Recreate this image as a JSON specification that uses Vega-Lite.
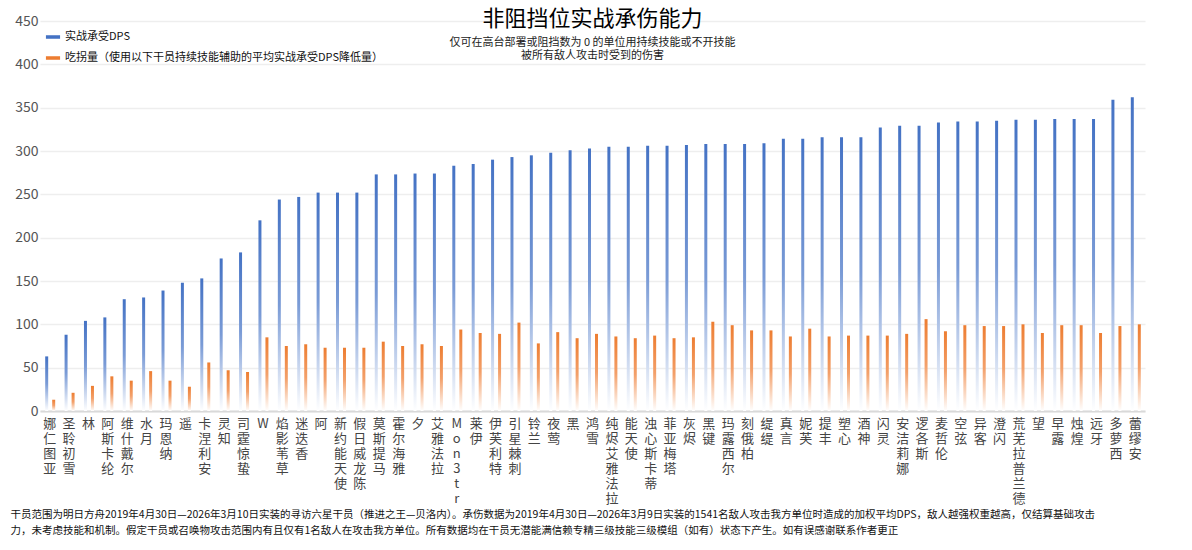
{
  "$schema": "https://vega.github.io/schema/vega-lite/v6.json",
  "width": 1105,
  "height": 390,
  "padding": {"left": 10, "top": 8, "right": 30, "bottom": 2},
  "background": "white",
  "config": {
    "font": "Noto Sans CJK SC",
    "view": {"stroke": null}
  },
  "title": {
    "text": "非阻挡位实战承伤能力",
    "subtitle": ["仅可在高台部署或阻挡数为 0 的单位用持续技能或不开技能", "被所有敌人攻击时受到的伤害"],
    "fontSize": 22,
    "fontWeight": "normal",
    "subtitleFontSize": 11,
    "subtitleColor": "#222",
    "subtitlePadding": 6,
    "offset": -48,
    "anchor": "middle"
  },
  "data": {
    "values": [
      {"name": "娜仁图亚", "dps": 63, "drop": 13},
      {"name": "圣聆初雪", "dps": 88, "drop": 21},
      {"name": "林", "dps": 104, "drop": 29},
      {"name": "阿斯卡纶", "dps": 108, "drop": 40},
      {"name": "维什戴尔", "dps": 129, "drop": 35},
      {"name": "水月", "dps": 131, "drop": 46},
      {"name": "玛恩纳", "dps": 139, "drop": 35},
      {"name": "遥", "dps": 148, "drop": 28},
      {"name": "卡涅利安", "dps": 153, "drop": 56},
      {"name": "灵知", "dps": 176, "drop": 47},
      {"name": "司霆惊蛰", "dps": 183, "drop": 45},
      {"name": "W", "dps": 220, "drop": 85},
      {"name": "焰影苇草", "dps": 244, "drop": 75},
      {"name": "迷迭香", "dps": 247, "drop": 77},
      {"name": "阿", "dps": 252, "drop": 73},
      {"name": "新约能天使", "dps": 252, "drop": 73},
      {"name": "假日威龙陈", "dps": 252, "drop": 73},
      {"name": "莫斯提马", "dps": 273, "drop": 80},
      {"name": "霍尔海雅", "dps": 273, "drop": 75},
      {"name": "夕", "dps": 274, "drop": 77},
      {"name": "艾雅法拉", "dps": 274, "drop": 75},
      {"name": "Mon3tr", "dps": 283, "drop": 94},
      {"name": "莱伊", "dps": 285, "drop": 90},
      {"name": "伊芙利特", "dps": 290, "drop": 89},
      {"name": "引星棘刺", "dps": 293, "drop": 102},
      {"name": "铃兰", "dps": 295, "drop": 78},
      {"name": "夜莺", "dps": 298, "drop": 91},
      {"name": "黑", "dps": 301, "drop": 84},
      {"name": "鸿雪", "dps": 303, "drop": 89},
      {"name": "纯烬艾雅法拉", "dps": 305, "drop": 86},
      {"name": "能天使", "dps": 305, "drop": 84},
      {"name": "浊心斯卡蒂", "dps": 306, "drop": 87},
      {"name": "菲亚梅塔", "dps": 306, "drop": 84},
      {"name": "灰烬", "dps": 307, "drop": 85},
      {"name": "黑键", "dps": 308, "drop": 103},
      {"name": "玛露西尔", "dps": 308, "drop": 99},
      {"name": "刻俄柏", "dps": 308, "drop": 93},
      {"name": "缇缇", "dps": 309, "drop": 93},
      {"name": "真言", "dps": 314, "drop": 86},
      {"name": "妮芙", "dps": 314, "drop": 95},
      {"name": "提丰", "dps": 316, "drop": 86},
      {"name": "塑心", "dps": 316, "drop": 87},
      {"name": "酒神", "dps": 316, "drop": 87},
      {"name": "闪灵", "dps": 327, "drop": 87},
      {"name": "安洁莉娜", "dps": 329, "drop": 89},
      {"name": "逻各斯", "dps": 329, "drop": 106},
      {"name": "麦哲伦", "dps": 333, "drop": 92},
      {"name": "空弦", "dps": 334, "drop": 99},
      {"name": "异客", "dps": 334, "drop": 98},
      {"name": "澄闪", "dps": 335, "drop": 98},
      {"name": "荒芜拉普兰德", "dps": 336, "drop": 100},
      {"name": "望", "dps": 336, "drop": 90},
      {"name": "早露", "dps": 337, "drop": 99},
      {"name": "烛煌", "dps": 337, "drop": 99},
      {"name": "远牙", "dps": 337, "drop": 90},
      {"name": "多萝西", "dps": 359, "drop": 98},
      {"name": "蕾缪安", "dps": 362, "drop": 100}
    ]
  },
  "encoding": {
    "x": {
      "field": "name",
      "type": "nominal",
      "sort": null,
      "axis": {
        "labelAngle": 0,
        "labelExpr": "split(datum.label, '')",
        "labelFontSize": 13,
        "labelColor": "#444",
        "labelLineHeight": 15,
        "labelBaseline": "top",
        "labelPadding": 6,
        "labelOverlap": false,
        "ticks": false,
        "domainColor": "#d9d9d9",
        "domainWidth": 2,
        "title": [
          "干员范围为明日方舟2019年4月30日—2026年3月10日实装的寻访六星干员（推进之王—贝洛内）。承伤数据为2019年4月30日—2026年3月9日实装的1541名敌人攻击我方单位时造成的加权平均DPS，敌人越强权重越高，仅结算基础攻击",
          "力，未考虑技能和机制。假定干员或召唤物攻击范围内有且仅有1名敌人在攻击我方单位。所有数据均在干员无潜能满信赖专精三级技能三级模组（如有）状态下产生。如有误感谢联系作者更正"
        ],
        "titleFontSize": 10.5,
        "titleFontWeight": "normal",
        "titleColor": "#111",
        "titleAnchor": "start",
        "titleAlign": "left",
        "titleX": -30,
        "titlePadding": 4,
        "titleLineHeight": 16
      }
    }
  },
  "layer": [
    {
      "mark": {
        "type": "bar",
        "width": 3,
        "xOffset": -3,
        "color": {
          "gradient": "linear", "x1": 0, "y1": 0, "x2": 0, "y2": 1,
          "stops": [
            {"offset": 0, "color": "#4472c4"},
            {"offset": 0.5, "color": "#7a9bd6"},
            {"offset": 1, "color": "#ffffff"}
          ]
        }
      },
      "encoding": {
        "y": {
          "field": "dps",
          "type": "quantitative",
          "scale": {"domain": [0, 450]},
          "axis": {
            "title": null,
            "values": [0, 50, 100, 150, 200, 250, 300, 350, 400, 450],
            "domain": false,
            "ticks": false,
            "labelFontSize": 14,
            "labelColor": "#555",
            "gridColor": "#eeeeee",
            "gridWidth": 1.5
          }
        }
      }
    },
    {
      "mark": {
        "type": "bar",
        "width": 3,
        "xOffset": 4,
        "color": {
          "gradient": "linear", "x1": 0, "y1": 0, "x2": 0, "y2": 1,
          "stops": [
            {"offset": 0, "color": "#ed7d31"},
            {"offset": 0.5, "color": "#f3a06a"},
            {"offset": 1, "color": "#ffffff"}
          ]
        }
      },
      "encoding": {"y": {"field": "drop", "type": "quantitative"}}
    },
    {
      "transform": [{"fold": ["dps", "drop"], "as": ["series", "val"]}],
      "mark": {"type": "point", "filled": true, "opacity": 0},
      "encoding": {
        "y": {"field": "val", "type": "quantitative"},
        "color": {
          "field": "series",
          "type": "nominal",
          "scale": {"domain": ["dps", "drop"], "range": ["#4472c4", "#ed7d31"]},
          "legend": {
            "title": null,
            "orient": "none",
            "legendX": 5,
            "legendY": 8,
            "symbolType": "M-1,-0.25H1V0.25H-1Z",
            "symbolSize": 200,
            "symbolOpacity": 1,
            "labelFontSize": 11,
            "labelColor": "#111",
            "labelLimit": 600,
            "rowPadding": 8,
            "labelExpr": "datum.value == 'dps' ? '实战承受DPS' : '吃拐量（使用以下干员持续技能辅助的平均实战承受DPS降低量）'"
          }
        }
      }
    }
  ]
}
